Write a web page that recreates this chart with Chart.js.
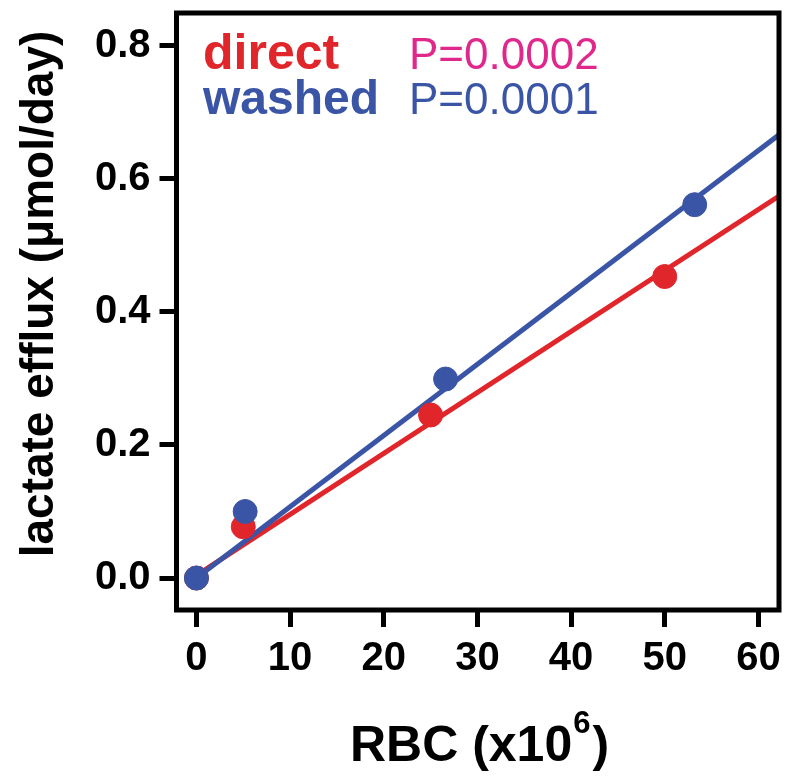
<!DOCTYPE html>
<html>
<head>
<meta charset="utf-8">
<script src="https://cdn.jsdelivr.net/npm/chart.js@4.4.1/dist/chart.umd.min.js"></script>
<style>
  html, body { margin: 0; padding: 0; background: #fff; }
  #wrap { width: 800px; height: 781px; }
</style>
</head>
<body>
<div id="wrap"><canvas id="chart"></canvas></div>
<script>
// data
const directX = [0, 5, 25, 50];
const directY = [0, 0.077, 0.245, 0.453];
const washedX = [0, 5.2, 26.6, 53.2];
const washedY = [0, 0.1, 0.299, 0.561];
// regression lines (end points as drawn)
const directFitX = [0, 62.2];
const directFitY = [0.004, 0.574];
const washedFitX = [0, 62.2];
const washedFitY = [0, 0.666];
const xTicks = [0, 10, 20, 30, 40, 50, 60];
const yTicks = [0, 0.2, 0.4, 0.6, 0.8];

const RED = '#e1262b';
const BLUE = '#3a55a5';
const PINK = '#e0288c';
const FONT = '"Liberation Sans", Arial, sans-serif';

function pts(xs, ys) {
    return xs.map((x, i) => ({ x: x, y: ys[i] }));
}

// frame, in-plot legend and axis titles
const decorations = {
    id: 'decorations',
    afterDraw(chart) {
        const ctx = chart.ctx;
        const a = chart.chartArea;
        ctx.save();
        ctx.strokeStyle = '#000';
        ctx.lineWidth = 5;
        ctx.strokeRect(a.left, a.top, a.right - a.left, a.bottom - a.top);

        ctx.textBaseline = 'alphabetic';
        ctx.textAlign = 'left';
        ctx.font = 'bold 50px ' + FONT;
        ctx.fillStyle = RED;
        ctx.fillText('direct', 203, 69);
        ctx.font = 'bold 48px ' + FONT;
        ctx.fillStyle = BLUE;
        ctx.fillText('washed', 203, 114);
        ctx.font = '44px ' + FONT;
        ctx.fillStyle = PINK;
        ctx.fillText('P=0.0002', 409, 69);
        ctx.fillStyle = BLUE;
        ctx.fillText('P=0.0001', 409, 114);

        // x title with superscript
        ctx.fillStyle = '#000';
        const main = 'RBC (x10';
        const sup = '6';
        const tail = ')';
        ctx.font = 'bold 50px ' + FONT;
        const w1 = ctx.measureText(main).width;
        const w3 = ctx.measureText(tail).width;
        ctx.font = 'bold 31px ' + FONT;
        const w2 = ctx.measureText(sup).width;
        const x0 = 478 - (w1 + w2 + w3) / 2;
        ctx.font = 'bold 50px ' + FONT;
        ctx.fillText(main, x0, 761);
        ctx.font = 'bold 31px ' + FONT;
        ctx.fillText(sup, x0 + w1 + 1, 733);
        ctx.font = 'bold 50px ' + FONT;
        ctx.fillText(tail, x0 + w1 + w2 + 3, 761);

        // y title
        ctx.translate(40, 294);
        ctx.rotate(-Math.PI / 2);
        ctx.textAlign = 'center';
        ctx.textBaseline = 'middle';
        ctx.font = 'bold 46px ' + FONT;
        ctx.fillText('lactate efflux (\u03bcmol/day)', 0, 0);
        ctx.restore();
    }
};

// lower dataset index is drawn on top: points above lines, blue above red
const ctx = document.getElementById('chart').getContext('2d');
new Chart(ctx, {
    type: 'scatter',
    data: {
        datasets: [
            {
                label: 'washed',
                data: pts(washedX, washedY),
                backgroundColor: BLUE,
                borderColor: BLUE,
                pointRadius: 12
            },
            {
                label: 'direct',
                data: pts(directX, directY),
                backgroundColor: RED,
                borderColor: RED,
                pointRadius: 12
            },
            {
                label: 'washed fit',
                data: pts(washedFitX, washedFitY),
                showLine: true,
                borderColor: BLUE,
                borderWidth: 5,
                pointRadius: 0
            },
            {
                label: 'direct fit',
                data: pts(directFitX, directFitY),
                showLine: true,
                borderColor: RED,
                borderWidth: 5,
                pointRadius: 0
            }
        ]
    },
    options: {
        responsive: true,
        maintainAspectRatio: false,
        animation: false,
        layout: { padding: { top: 10, right: 21, left: 0, bottom: 0 } },
        plugins: {
            legend: { display: false },
            tooltip: { enabled: false }
        },
        scales: {
            x: {
                type: 'linear',
                min: -2.13,
                max: 62.2,
                afterBuildTicks: s => { s.ticks = xTicks.map(v => ({ value: v })); },
                afterFit: s => { s.height = 171; s.paddingLeft = 0; s.paddingRight = 0; },
                grid: { drawOnChartArea: false, tickLength: 17, tickWidth: 5, color: '#000' },
                border: { display: false },
                ticks: {
                    color: '#000',
                    padding: 8,
                    font: { family: FONT, size: 40, weight: 'bold' },
                    callback: v => String(v)
                }
            },
            y: {
                type: 'linear',
                min: -0.048,
                max: 0.849,
                afterBuildTicks: s => { s.ticks = yTicks.map(v => ({ value: v })); },
                afterFit: s => { s.width = 176.5; s.paddingTop = 0; s.paddingBottom = 0; },
                grid: { drawOnChartArea: false, tickLength: 17, tickWidth: 5, color: '#000' },
                border: { display: false },
                ticks: {
                    color: '#000',
                    padding: 9,
                    font: { family: FONT, size: 40, weight: 'bold' },
                    callback: v => v.toFixed(1)
                }
            }
        }
    },
    plugins: [decorations]
});
</script>
</body>
</html>
